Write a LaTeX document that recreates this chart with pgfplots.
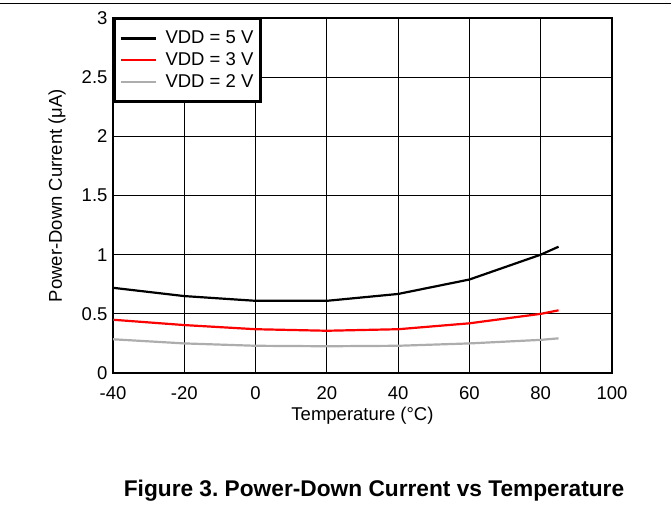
\documentclass[border=0pt]{standalone}
\usepackage{pgfplots}
\pgfplotsset{compat=1.18}
\usepackage{fontspec}
\setmainfont{Liberation Sans}
\begin{document}
\frenchspacing
\begin{tikzpicture}[x=1pt,y=1pt]
\useasboundingbox (0pt,0pt) rectangle (671pt,506pt);
\draw[line width=1pt] (0pt,502pt) -- (671pt,502pt);
\begin{axis}[
  at={(113pt,133pt)}, anchor=south west,
  width=499pt, height=355pt, scale only axis,
  xmin=-40, xmax=100, ymin=0, ymax=3,
  xtick={-40,-20,0,20,40,60,80,100},
  ytick={0,0.5,1,1.5,2,2.5,3},
  yticklabels={0,0.5,1,1.5,2,2.5,3},
  xticklabels={-40,-20,0,20,40,60,80,100},
  grid=major,
  grid style={black, line width=0.8pt},
  axis line style={line width=2.5pt},
  major tick length=0pt,
  tick style={draw=none},
  /pgf/number format/assume math mode=true,
  ticklabel style={font=\fontsize{18.5}{22}\selectfont},
  xticklabel style={yshift=-10pt},
  yticklabel style={xshift=-2pt},
  xlabel={Temperature (°C)},
  ylabel={Power-Down Current (μA)},
  label style={font=\fontsize{18.5}{22}\selectfont},
  xlabel style={at={(axis description cs:0.5,-0.12)}, anchor=center},
  ylabel style={at={(axis description cs:-0.112,0.5)}, anchor=center},
  legend style={at={(axis description cs:0,1)}, anchor=north west,
    draw=black, line width=2.5pt, font=\fontsize{18.5}{22}\selectfont,
    inner xsep=5pt, inner ysep=10pt, row sep=3.5pt, cells={anchor=west}},
  legend image code/.code={\draw[#1, line width=2.6pt] (0pt,0pt) -- (35pt,0pt); \path[draw=none,fill=none] (-1pt,-1pt) rectangle (43pt,1pt);},
]
\addplot[black, line width=2.2pt] coordinates {(-40,0.72) (-20,0.65) (0,0.61) (20,0.61) (40,0.668) (60,0.79) (80,1.0) (85,1.067)};
\addlegendentry{VDD = 5 V}
\addplot[red, line width=2.2pt] coordinates {(-40,0.45) (-20,0.405) (0,0.37) (20,0.357) (40,0.37) (60,0.42) (80,0.5) (85,0.53)};
\addlegendentry{VDD = 3 V}
\addplot[black!32, line width=2.2pt] coordinates {(-40,0.285) (-20,0.25) (0,0.23) (20,0.226) (40,0.23) (60,0.25) (80,0.28) (85,0.293)};
\addlegendentry{VDD = 2 V}
\end{axis}
\node[font=\bfseries\fontsize{22.7}{26}\selectfont] at (374pt,15pt) {Figure 3. Power-Down Current vs Temperature};
\end{tikzpicture}
\end{document}
